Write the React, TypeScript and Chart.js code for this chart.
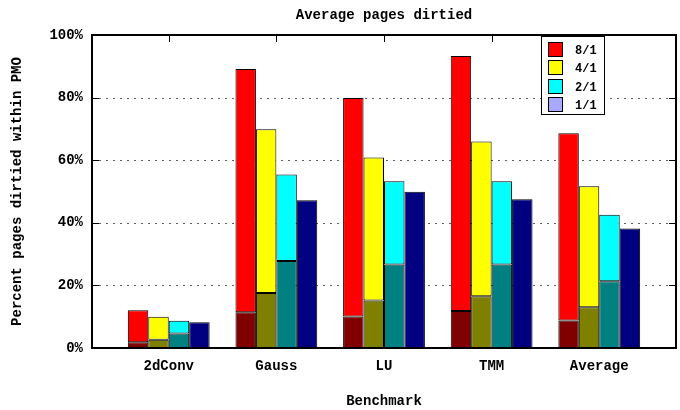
import React, { useEffect, useRef } from "react";
import { Chart, registerables } from "chart.js";

Chart.register(...registerables);

const categories = ["2dConv", "Gauss", "LU", "TMM", "Average"];
const seriesNames = ["8/1", "4/1", "2/1", "1/1"];

// total bar heights (%) and the dark lower portion (%)
const total8 = [12.1, 89.1, 79.9, 93.3, 68.6];
const low8 = [1.8, 11.4, 10.1, 11.8, 8.8];
const total4 = [10.0, 69.9, 60.9, 66.0, 51.7];
const low4 = [2.6, 17.6, 15.2, 16.5, 13.0];
const total2 = [8.7, 55.4, 53.3, 53.3, 42.6];
const low2 = [4.6, 27.8, 26.7, 26.7, 21.3];
const total1 = [8.2, 47.2, 49.9, 47.5, 38.2];
const low1 = [8.2, 47.2, 49.9, 47.5, 38.2];

const yTicks = [0, 20, 40, 60, 80, 100];
const gridValues = [20, 40, 60, 80];

const brightColors = ["#ff0000", "#ffff00", "#00ffff", "#a8a8ff"];
const darkColors = ["#800000", "#808000", "#008080", "#000080"];

const FONT = "'Liberation Mono', 'Courier New', monospace";

const totals = [total8, total4, total2, total1];
const lows = [low8, low4, low2, low1];

const framePlugin = {
  id: "framePlugin",
  beforeDatasetsDraw(chart: any) {
    const { ctx, chartArea: a, scales } = chart;
    const y = scales.y;
    ctx.save();
    ctx.strokeStyle = "#606060";
    ctx.lineWidth = 1;
    ctx.setLineDash([2, 5]);
    for (const v of gridValues) {
      const py = Math.round(y.getPixelForValue(v)) + 0.5;
      ctx.beginPath();
      ctx.moveTo(a.left, py);
      ctx.lineTo(a.right, py);
      ctx.stroke();
    }
    ctx.restore();
  },
  afterDatasetsDraw(chart: any) {
    const { ctx, chartArea: a, scales } = chart;
    const y = scales.y;
    const x = scales.x;
    ctx.save();
    ctx.strokeStyle = "#000";
    ctx.lineWidth = 1;
    ctx.setLineDash([]);
    for (const v of yTicks) {
      const py = Math.round(y.getPixelForValue(v)) + 0.5;
      ctx.beginPath();
      ctx.moveTo(a.left, py);
      ctx.lineTo(a.left + 7, py);
      ctx.moveTo(a.right, py);
      ctx.lineTo(a.right - 7, py);
      ctx.stroke();
    }
    categories.forEach((_, i) => {
      const px = Math.round(x.getPixelForValue(i + 1)) + 0.5;
      ctx.beginPath();
      ctx.moveTo(px, a.top);
      ctx.lineTo(px, a.top + 7);
      ctx.stroke();
    });
    ctx.lineWidth = 2;
    ctx.strokeRect(a.left, a.top, a.right - a.left, a.bottom - a.top);

    // legend
    const lx = 541;
    const ly = 36;
    const lw = 63;
    const lh = 78;
    ctx.fillStyle = "#fff";
    ctx.fillRect(lx, ly, lw, lh);
    ctx.lineWidth = 1;
    ctx.strokeStyle = "#000";
    ctx.strokeRect(lx + 0.5, ly + 0.5, lw, lh);
    ctx.font = `bold 12px ${FONT}`;
    ctx.textBaseline = "middle";
    ctx.textAlign = "left";
    seriesNames.forEach((name, i) => {
      const ry = Math.round(ly + 6 + i * 18.3);
      ctx.fillStyle = brightColors[i];
      ctx.fillRect(548, ry, 14, 14);
      ctx.strokeStyle = "#000";
      ctx.strokeRect(548.5, ry + 0.5, 14, 14);
      ctx.fillStyle = "#000";
      ctx.fillText(name, 575, ry + 9);
    });
    ctx.restore();
  },
};

export default function App() {
  const ref = useRef<HTMLCanvasElement | null>(null);

  useEffect(() => {
    if (!ref.current) return;
    const datasets: any[] = [];
    seriesNames.forEach((name, s) => {
      datasets.push({
        label: name + " low",
        data: categories.map((_, i) => ({ x: i + 1, y: lows[s][i] })),
        backgroundColor: darkColors[s],
        borderColor: "#000",
        borderWidth: 1,
        borderSkipped: false,
        stack: "s" + s,
      });
      datasets.push({
        label: name,
        data: categories.map((_, i) => ({ x: i + 1, y: totals[s][i] - lows[s][i] })),
        backgroundColor: brightColors[s],
        borderColor: "#000",
        borderWidth: 1,
        borderSkipped: false,
        stack: "s" + s,
      });
    });

    const chart = new Chart(ref.current, {
      type: "bar",
      data: { datasets },
      options: {
        responsive: false,
        animation: false,
        devicePixelRatio: 1,
        categoryPercentage: 0.76,
        barPercentage: 1,
        layout: { padding: { left: 0, right: 4, top: 0, bottom: 0 } },
        plugins: {
          legend: { display: false },
          tooltip: { enabled: false },
          title: {
            display: true,
            fullSize: false,
            text: "Average pages dirtied",
            color: "#000",
            font: { family: FONT, size: 14, weight: "bold", lineHeight: 1.2 },
            padding: { top: 6.6, bottom: 11.6 },
          },
        },
        scales: {
          x: {
            type: "linear",
            stacked: true,
            offset: false,
            min: 0.287,
            max: 5.713,
            grid: { display: false, offset: false, drawTicks: false },
            border: { display: false },
            afterBuildTicks: (scale: any) => {
              scale.ticks = categories.map((_, i) => ({ value: i + 1 }));
            },
            afterFit: (scale: any) => {
              scale.height = 62;
            },
            ticks: {
              color: "#000",
              padding: 10,
              maxRotation: 0,
              autoSkip: false,
              font: { family: FONT, size: 14, weight: "bold" },
              callback: (v: any) => categories[Math.round(v) - 1] ?? "",
            },
            title: {
              display: true,
              text: "Benchmark",
              color: "#000",
              font: { family: FONT, size: 14, weight: "bold", lineHeight: 1.2 },
              padding: { top: 0, bottom: 0.6 },
            },
          },
          y: {
            stacked: true,
            min: 0,
            max: 100,
            grid: { display: false, drawTicks: false },
            border: { display: false },
            afterBuildTicks: (scale: any) => {
              scale.ticks = yTicks.map((v) => ({ value: v }));
            },
            afterFit: (scale: any) => {
              scale.width = 92;
            },
            ticks: {
              color: "#000",
              padding: 9,
              font: { family: FONT, size: 14, weight: "bold" },
              callback: (v: any) => v + "%",
            },
            title: {
              display: true,
              text: "Percent pages dirtied within PMO",
              color: "#000",
              font: { family: FONT, size: 14, weight: "bold", lineHeight: 1.2 },
              padding: { top: 8.6, bottom: 0 },
            },
          },
        },
      },
      plugins: [framePlugin],
    } as any);
    return () => chart.destroy();
  }, []);

  return (
    <div style={{ position: "fixed", left: 0, top: 0, width: 680, height: 410, background: "#fff" }}>
      <canvas ref={ref} width={680} height={410} style={{ display: "block" }} />
    </div>
  );
}
